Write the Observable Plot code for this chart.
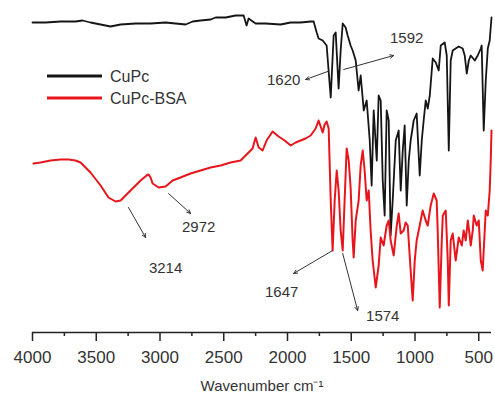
<!DOCTYPE html>
<html>
<head>
<meta charset="utf-8">
<script src="https://cdn.jsdelivr.net/npm/d3@7"></script>
<script src="https://cdn.jsdelivr.net/npm/@observablehq/plot@0.6"></script>
<style>
  html, body { margin: 0; padding: 0; background: #fff; }
  #chart svg { display: block; }
</style>
</head>
<body>
<div id="chart"></div>
<script>
// FTIR spectra: wavenumber (cm^-1) and transmittance (arbitrary units)
const cupcWavenumber = [4000,3898,3780,3663,3608,3545,3466,3388,3309,3192,3074,2956,2878,2799,2744,2682,2603,2564,2485,2407,2344,2321,2305,2250,2172,2054,1975,1897,1818,1795,1771,1756,1724,1693,1661,1638,1622,1599,1583,1567,1544,1528,1505,1489,1465,1442,1426,1402,1379,1355,1340,1324,1300,1285,1269,1253,1238,1222,1206,1191,1175,1151,1128,1112,1096,1081,1065,1049,1034,1010,987,963,947,932,916,900,884,861,837,814,798,767,751,735,720,704,681,657,626,610,594,578,563,531,508,484,477,461,445,429,414,400];
const cupcT = [310,310,311,311,312,310,308,306,308,309,309,310,309,308,311,312,313,315,315,317,317,307,314,309,309,308,310,310,311,311,300,294,292,287,235,297,300,244,282,309,305,297,287,282,272,242,257,222,232,192,147,222,172,237,232,152,117,222,212,97,132,192,202,142,182,207,127,172,192,212,219,157,192,212,232,224,237,274,270,262,287,290,277,182,272,282,284,286,284,277,259,272,277,272,277,284,287,202,252,284,292,315];

const bsaWavenumber = [3992,3937,3859,3780,3717,3663,3623,3545,3466,3404,3349,3309,3270,3231,3152,3105,3090,3074,3058,3011,2956,2901,2839,2760,2682,2603,2525,2446,2368,2313,2274,2250,2226,2195,2164,2117,2070,2022,1975,1936,1897,1858,1818,1779,1756,1740,1724,1709,1693,1677,1661,1646,1630,1614,1599,1583,1567,1552,1536,1520,1505,1489,1481,1465,1442,1426,1410,1395,1379,1363,1348,1332,1308,1285,1269,1246,1222,1206,1191,1167,1143,1128,1112,1089,1073,1057,1034,1018,1002,987,963,940,916,900,877,853,830,822,806,790,782,759,743,735,720,704,681,657,633,618,602,586,571,563,547,539,516,500,484,469,453,445,429,414,406,400];
const bsaT = [169,170,172,173,173,172,170,160,147,135,131,132,137,142,152,157,158,155,149,145,146,152,155,159,162,165,167,170,172,179,184,195,185,182,192,201,196,192,187,190,192,194,197,204,212,206,200,208,211,204,132,82,132,162,142,102,82,132,184,172,145,92,75,112,132,167,182,162,132,142,102,72,45,67,95,87,107,112,92,77,107,119,99,102,110,107,62,32,72,92,107,122,112,107,127,139,132,102,25,92,117,122,72,27,92,99,72,95,87,102,92,112,97,87,102,117,107,112,72,62,102,122,117,142,172,202];

const seriesNames = ["CuPc", "CuPc-BSA"];
const seriesColors = ["#151515", "#e8161c"];

// x axis ticks
const majorTicks = [4000, 3500, 3000, 2500, 2000, 1500, 1000, 500];
const minorTicks = [3750, 3250, 2750, 2250, 1750, 1250, 750];

// Band assignments: arrow from (w1,t1) to (w2,t2), label at (wl,tl)
const bandLabels = ["1620", "1592", "2972", "3214", "1647", "1574"];
const bandW1 = [1685, 1559, 2933, 3247, 1646, 1567];
const bandT1 = [261, 263, 139, 125, 82, 79];
const bandW2 = [1858, 1167, 2760, 3113, 1952, 1450];
const bandT2 = [253, 277, 119, 95, 59, 22];
const bandLabelW = [2030, 1065, 2697, 2956, 2046, 1253];
const bandLabelT = [252, 294, 105, 64, 40, 16];

const cupc = cupcWavenumber.map((w, i) => ({w, t: cupcT[i]}));
const bsa = bsaWavenumber.map((w, i) => ({w, t: bsaT[i]}));
const bands = bandLabels.map((label, i) => ({
  label, w1: bandW1[i], t1: bandT1[i], w2: bandW2[i], t2: bandT2[i],
  wl: bandLabelW[i], tl: bandLabelT[i]
}));

const font = "'Liberation Sans', Arial, sans-serif";
const ink = "#333";

// Legend drawn in the upper-left corner of the frame
function legend(index, scales, values, dimensions) {
  const g = d3.create("svg:g");
  seriesNames.forEach((name, i) => {
    const y = 76 + i * 22;
    g.append("line")
      .attr("x1", 47).attr("x2", 102).attr("y1", y).attr("y2", y)
      .attr("stroke", seriesColors[i]).attr("stroke-width", 3);
    g.append("text")
      .attr("x", 110).attr("y", y).attr("dy", "0.35em")
      .attr("text-anchor", "start")
      .attr("fill", ink).attr("font-size", 16).attr("font-family", font)
      .text(name);
  });
  return g.node();
}

const chart = Plot.plot({
  width: 495,
  height: 398,
  marginLeft: 32,
  marginRight: 4,
  marginTop: 0,
  marginBottom: 66,
  style: {fontFamily: font, background: "#fff", color: ink},
  x: {domain: [4000, 400]},
  y: {domain: [0, 332], axis: null},
  marks: [
    Plot.line(cupc, {x: "w", y: "t", stroke: seriesColors[0], strokeWidth: 1.8, curve: "linear"}),
    Plot.line(bsa, {x: "w", y: "t", stroke: seriesColors[1], strokeWidth: 2, curve: "linear"}),
    Plot.arrow(bands, {x1: "w1", y1: "t1", x2: "w2", y2: "t2", stroke: ink, strokeWidth: 1, headLength: 6, headAngle: 50}),
    Plot.text(bands, {x: "wl", y: "tl", text: "label", fill: ink, fontSize: 15}),
    Plot.ruleY([0], {stroke: "#222", strokeWidth: 1.5}),
    Plot.axisX({ticks: majorTicks, tickSize: 9, tickPadding: 9, tickFormat: "d", fontSize: 17, label: null, stroke: "#222", strokeWidth: 1.5, color: ink}),
    Plot.axisX({ticks: minorTicks, tickSize: 4, tickFormat: () => "", label: null, stroke: "#222", strokeWidth: 1.5}),
    Plot.text(["Wavenumber cm\u207B\u00B9"], {frameAnchor: "bottom", dy: 58, fontSize: 15, fill: ink}),
    legend
  ]
});

document.getElementById("chart").append(chart);
</script>
</body>
</html>
